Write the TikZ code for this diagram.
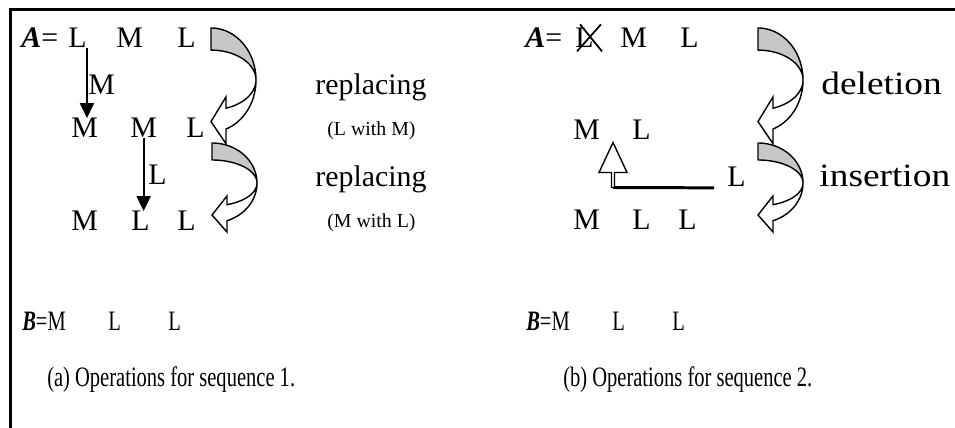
\documentclass[tikz,border=0pt]{standalone}
\usepackage{fontspec}
\setmainfont{Liberation Serif}
\usetikzlibrary{arrows.meta}

\tikzset{
  letter/.style={anchor=base west, inner sep=0pt, font=\fontsize{17}{20}\selectfont},
  opname/.style={anchor=base west, inner sep=0pt, font=\fontsize{18.5}{22}\selectfont, xscale=1.15},
  note/.style={anchor=base west, inner sep=0pt, font=\fontsize{11.3}{13}\selectfont},
  caption/.style={anchor=base west, inner sep=0pt, font=\fontsize{16}{18}\selectfont, xscale=0.73},
  downarrow/.style={line width=1.1pt, -{Triangle[length=0.3cm, width=0.28cm]}},
  % band that turns round and ends in a head pointing left
  turnarrow/.pic={
    \draw[line width=0.8pt, fill=black!22, line join=round]
      plot[domain=-90:0, samples=30] ({45*cos(\x)}, {40+40*sin(\x)})
      -- plot[domain=0:-90, samples=30] ({45*cos(\x)}, {40+23*sin(\x)}) -- cycle;
    \draw[line width=0.8pt, fill=white]
      plot[domain=0:70.5, samples=30] ({45*cos(\x)}, {40+40*sin(\x)})
      -- (15,89) -- (0,72) -- (15,53)
      -- plot[domain=70.5:0, samples=30] ({45*cos(\x)}, {40+23*sin(\x)}) -- cycle;
  }
}

\begin{document}
\begin{tikzpicture}[x=0.02cm, y=-0.02cm]
  \useasboundingbox (0,0) rectangle (955,428);
  \draw[line width=1.7pt] (955,9.5) -- (10.5,9.5) -- (10.5,428);

  % (a) two replacements
  \node[letter] (a0) at (21,48) {\textbf{\textit{A}}=};
  \node[letter] (a1) at (68,48) {L};
  \node[letter] (a2) at (116,48) {M};
  \node[letter] (a3) at (177,48) {L};
  \node[letter] (b1) at (71,138) {M};
  \node[letter] (b2) at (130,138) {M};
  \node[letter] (b3) at (186,138) {L};
  \node[letter] (c1) at (71,231) {M};
  \node[letter] (c2) at (131,231) {L};
  \node[letter] (c3) at (177,231) {L};
  \draw[downarrow] (a1.south east) -- (a1.south east |- b1.north);
  \node[letter] (m1) at (88,95) {M};
  \draw[downarrow] (b2.south) -- (b2.south |- c2.north);
  \node[letter] (l1) at (148,185) {L};
  \pic[yscale=1.3] at (211,28) {turnarrow};
  \pic at (212,143) {turnarrow};
  \node[letter] (rep1) at (315,95) {replacing};
  \node[note] (with1) at (327,136) {(L with M)};
  \node[letter] (rep2) at (315,187) {replacing};
  \node[note] (with2) at (327,228) {(M with L)};
  \node[caption] (bl) at (22,331) {\textbf{\textit{B}}=M};
  \node[caption] (bl2) at (108,331) {L};
  \node[caption] (bl3) at (168,331) {L};
  \node[caption] (capa) at (47,386) {(a) Operations for sequence 1.};

  % (b) deletion, then insertion
  \node[letter] (d0) at (525,48) {\textbf{\textit{A}}=};
  \node[letter] (d1) at (575,48) {L};
  \draw[line width=1pt] ([shift={(2,3)}]d1.south west) -- ([shift={(26,-24)}]d1.south west)
    ([shift={(5,-24)}]d1.south west) -- ([shift={(27,3)}]d1.south west);
  \node[letter] (d2) at (620,48) {M};
  \node[letter] (d3) at (680,48) {L};
  \node[letter] (e1) at (573,140) {M};
  \node[letter] (e2) at (632,140) {L};
  \node[letter] (ins) at (727,187) {L};
  \node[letter] (f1) at (573,230) {M};
  \node[letter] (f2) at (632,230) {L};
  \node[letter] (f3) at (678,230) {L};
  \coordinate (turn) at (613,187.5);
  \draw[line width=1.7pt] ([shift={(-13,0.5)}]ins.south west) -- (turn);
  \draw[line width=0.8pt, fill=white] (turn) ++(1.5,0) -- ++(0,-15) -- ++(12.5,0)
    -- ++(-14,-30) -- ++(-14,30) -- ++(12.5,0) -- ++(0,15) -- cycle;
  \pic[yscale=1.3] at (758,28) {turnarrow};
  \pic at (758,143) {turnarrow};
  \node[opname] (del) at (821,95) {deletion};
  \node[opname] (insn) at (819,187) {insertion};
  \node[caption] (br) at (526,331) {\textbf{\textit{B}}=M};
  \node[caption] (br2) at (612,331) {L};
  \node[caption] (br3) at (672,331) {L};
  \node[caption] (capb) at (563,386) {(b) Operations for sequence 2.};
\end{tikzpicture}
\end{document}
